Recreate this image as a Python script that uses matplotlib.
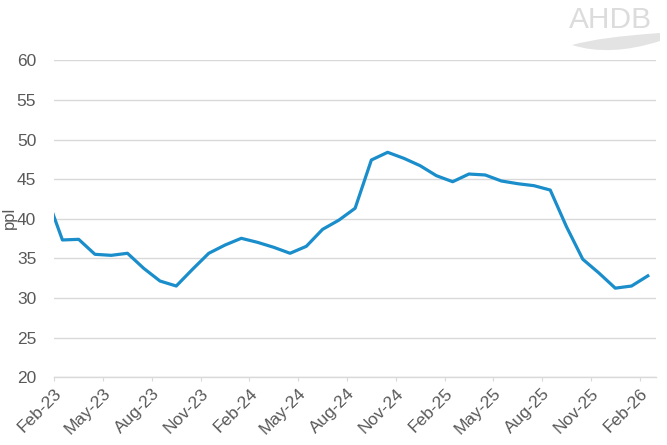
import matplotlib
matplotlib.use("Agg")
import matplotlib.pyplot as plt
import numpy as np
from matplotlib.patches import PathPatch
from matplotlib.path import Path

# Monthly values (ppl), Jan-23 .. Feb-26 (Jan-23 is clipped at axis start)
months = ["Jan-23", "Feb-23", "Mar-23", "Apr-23", "May-23", "Jun-23", "Jul-23", "Aug-23",
          "Sep-23", "Oct-23", "Nov-23", "Dec-23", "Jan-24", "Feb-24", "Mar-24", "Apr-24",
          "May-24", "Jun-24", "Jul-24", "Aug-24", "Sep-24", "Oct-24", "Nov-24", "Dec-24",
          "Jan-25", "Feb-25", "Mar-25", "Apr-25", "May-25", "Jun-25", "Jul-25", "Aug-25",
          "Sep-25", "Oct-25", "Nov-25", "Dec-25", "Jan-26", "Feb-26"]
values = [43.0, 37.33, 37.41, 35.52, 35.39, 35.65, 33.75, 32.15,
          31.52, 33.63, 35.65, 36.69, 37.54, 37.03, 36.40, 35.65,
          36.53, 38.67, 39.83, 41.33, 47.42, 48.39, 47.63, 46.70,
          45.44, 44.68, 45.65, 45.53, 44.77, 44.43, 44.18, 43.63,
          39.0, 34.9, 33.15, 31.25, 31.52, 32.8]
tick_labels = ["Feb-23", "May-23", "Aug-23", "Nov-23", "Feb-24", "May-24", "Aug-24",
               "Nov-24", "Feb-25", "May-25", "Aug-25", "Nov-25", "Feb-26"]
y_ticks = [20, 25, 30, 35, 40, 45, 50, 55, 60]

plt.rcParams['font.family'] = ['Liberation Sans', 'DejaVu Sans']
txt = '#595959'
grid = '#d9d9d9'

fig = plt.figure(figsize=(6.67, 4.45), dpi=100)
ax = fig.add_axes([0.0814, 0.1521, 0.902, 0.7124])

# x: month index with Feb-23 start = 0, points at mid-month
x = np.arange(len(values)) - 1 + 0.5
ax.plot(x, values, color='#1a8dcb', lw=2.3, solid_joinstyle='round', clip_on=True)

ax.set_xlim(0, 37)
ax.set_ylim(20, 60)
ax.set_yticks(y_ticks)
ax.set_yticklabels([str(v) for v in y_ticks], color=txt, fontsize=12.5)
ax.set_xticks(np.arange(0, 37, 3))
ax.set_xticklabels(tick_labels, rotation=45, ha='right', rotation_mode='anchor',
                   color=txt, fontsize=12.5)
ax.tick_params(axis='y', length=0, pad=13)
ax.tick_params(axis='x', length=3, color=grid, pad=3)
for s in ['top', 'right', 'left']:
    ax.spines[s].set_visible(False)
ax.spines['bottom'].set_color(grid)
ax.spines['bottom'].set_linewidth(1)
ax.grid(axis='y', color=grid, lw=1)
ax.set_axisbelow(True)
fig.text(2 / 667, 1 - 218 / 445, 'ppl', color=txt, fontsize=12, rotation=90,
         ha='left', va='center')

# AHDB logo (light grey)
fig.text(0.978, 1 - 28 / 445, 'AHDB', color='#dcdcdc', fontsize=21.5, ha='right',
         va='baseline', fontfamily='Liberation Sans')
verts = [(572, 45), (600, 37), (660, 33), (660, 41),
         (610, 57), (572, 45), (572, 45)]
verts = [(vx / 667, 1 - vy / 445) for vx, vy in verts]
codes = [Path.MOVETO, Path.CURVE3, Path.CURVE3, Path.LINETO,
         Path.CURVE3, Path.CURVE3, Path.CLOSEPOLY]
fig.patches.append(PathPatch(Path(verts, codes), transform=fig.transFigure,
                             facecolor='#e3e3e3', edgecolor='none'))

fig.savefig('out.png', dpi=100)
